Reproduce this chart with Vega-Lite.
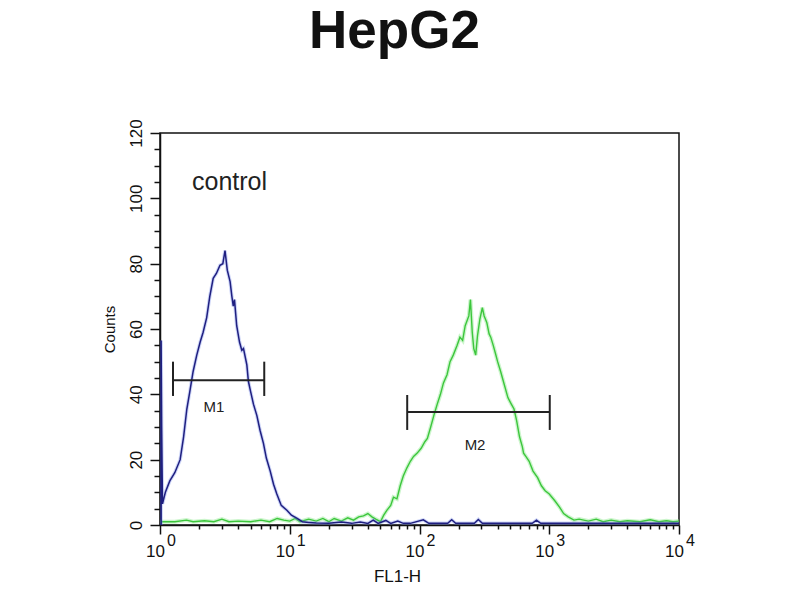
{
  "$schema": "https://vega.github.io/schema/vega-lite/v6.json",
  "description": "HepG2 flow cytometry histogram, control vs stained, FL1-H on a log axis",
  "width": 519,
  "height": 392,
  "autosize": {"type": "none"},
  "padding": {"left": 160, "top": 133, "right": 121, "bottom": 75},
  "background": "white",
  "title": {
    "text": "HepG2",
    "font": "Liberation Sans",
    "fontSize": 53,
    "fontWeight": "bold",
    "color": "#111111",
    "anchor": "middle",
    "frame": "group",
    "baseline": "alphabetic",
    "dx": -25,
    "offset": 18
  },
  "datasets": {
    "control": [
      {"i": 0, "x": 1.02, "y": 0},
      {"i": 1, "x": 1.02, "y": 56.5},
      {"i": 2, "x": 1.03, "y": 30},
      {"i": 3, "x": 1.045, "y": 6.5},
      {"i": 4, "x": 1.1, "y": 10},
      {"i": 5, "x": 1.19, "y": 13.5},
      {"i": 6, "x": 1.3, "y": 16},
      {"i": 7, "x": 1.43, "y": 20},
      {"i": 8, "x": 1.52, "y": 27},
      {"i": 9, "x": 1.61, "y": 35.5},
      {"i": 10, "x": 1.7, "y": 41},
      {"i": 11, "x": 1.8, "y": 47},
      {"i": 12, "x": 1.92, "y": 52},
      {"i": 13, "x": 2.04, "y": 56},
      {"i": 14, "x": 2.15, "y": 59},
      {"i": 15, "x": 2.29, "y": 63.5},
      {"i": 16, "x": 2.42, "y": 70},
      {"i": 17, "x": 2.57, "y": 75.5},
      {"i": 18, "x": 2.72, "y": 77},
      {"i": 19, "x": 2.9, "y": 79.5},
      {"i": 20, "x": 3.05, "y": 80},
      {"i": 21, "x": 3.17, "y": 84},
      {"i": 22, "x": 3.3, "y": 78},
      {"i": 23, "x": 3.47, "y": 74.5},
      {"i": 24, "x": 3.58, "y": 70},
      {"i": 25, "x": 3.67, "y": 67},
      {"i": 26, "x": 3.75, "y": 69},
      {"i": 27, "x": 3.9, "y": 61},
      {"i": 28, "x": 4.1, "y": 56},
      {"i": 29, "x": 4.27, "y": 53.5},
      {"i": 30, "x": 4.4, "y": 54},
      {"i": 31, "x": 4.67, "y": 49},
      {"i": 32, "x": 4.8, "y": 44},
      {"i": 33, "x": 4.95, "y": 41.5},
      {"i": 34, "x": 5.25, "y": 37},
      {"i": 35, "x": 5.58, "y": 33.5},
      {"i": 36, "x": 5.9, "y": 29},
      {"i": 37, "x": 6.27, "y": 25},
      {"i": 38, "x": 6.6, "y": 20.5},
      {"i": 39, "x": 7.07, "y": 16.5},
      {"i": 40, "x": 7.5, "y": 12.5},
      {"i": 41, "x": 7.95, "y": 9.5},
      {"i": 42, "x": 8.6, "y": 6},
      {"i": 43, "x": 9.5, "y": 4.5},
      {"i": 44, "x": 10.3, "y": 3},
      {"i": 45, "x": 11.4, "y": 2},
      {"i": 46, "x": 12.5, "y": 1},
      {"i": 47, "x": 14, "y": 0.8},
      {"i": 48, "x": 16, "y": 0.6},
      {"i": 49, "x": 20, "y": 0.5},
      {"i": 50, "x": 25, "y": 0.9},
      {"i": 51, "x": 30, "y": 0.5},
      {"i": 52, "x": 35, "y": 0.9},
      {"i": 53, "x": 40, "y": 0.5},
      {"i": 54, "x": 44, "y": 1.5},
      {"i": 55, "x": 48, "y": 0.5},
      {"i": 56, "x": 55, "y": 1.4},
      {"i": 57, "x": 60, "y": 0.5},
      {"i": 58, "x": 68, "y": 1.2},
      {"i": 59, "x": 75, "y": 0.5},
      {"i": 60, "x": 85, "y": 0.5},
      {"i": 61, "x": 107, "y": 1.6},
      {"i": 62, "x": 118, "y": 0.5},
      {"i": 63, "x": 165, "y": 0.5},
      {"i": 64, "x": 177, "y": 1.6},
      {"i": 65, "x": 190, "y": 0.5},
      {"i": 66, "x": 265, "y": 0.5},
      {"i": 67, "x": 284, "y": 1.7},
      {"i": 68, "x": 305, "y": 0.5},
      {"i": 69, "x": 740, "y": 0.5},
      {"i": 70, "x": 797, "y": 1.5},
      {"i": 71, "x": 860, "y": 0.5},
      {"i": 72, "x": 10000, "y": 0.5}
    ],
    "stained": [
      {"i": 0, "x": 1.0, "y": 1},
      {"i": 1, "x": 1.3, "y": 1},
      {"i": 2, "x": 1.6, "y": 1.5},
      {"i": 3, "x": 1.8, "y": 1},
      {"i": 4, "x": 2.2, "y": 1.3},
      {"i": 5, "x": 2.6, "y": 1},
      {"i": 6, "x": 3.0, "y": 1.8},
      {"i": 7, "x": 3.4, "y": 1},
      {"i": 8, "x": 4, "y": 1.2},
      {"i": 9, "x": 5, "y": 1},
      {"i": 10, "x": 6, "y": 1.5},
      {"i": 11, "x": 7, "y": 1},
      {"i": 12, "x": 8, "y": 2},
      {"i": 13, "x": 9, "y": 1.5},
      {"i": 14, "x": 10, "y": 1.2},
      {"i": 15, "x": 11, "y": 2},
      {"i": 16, "x": 12, "y": 1},
      {"i": 17, "x": 14, "y": 1.8},
      {"i": 18, "x": 16, "y": 1.2},
      {"i": 19, "x": 18, "y": 2},
      {"i": 20, "x": 20, "y": 1},
      {"i": 21, "x": 22, "y": 2},
      {"i": 22, "x": 25, "y": 1.2},
      {"i": 23, "x": 28, "y": 2.2},
      {"i": 24, "x": 31, "y": 1.5},
      {"i": 25, "x": 34, "y": 2.5},
      {"i": 26, "x": 37, "y": 2.8},
      {"i": 27, "x": 40, "y": 3.5},
      {"i": 28, "x": 43, "y": 2.5},
      {"i": 29, "x": 46, "y": 1.8},
      {"i": 30, "x": 50, "y": 1},
      {"i": 31, "x": 53, "y": 3},
      {"i": 32, "x": 56, "y": 4.5},
      {"i": 33, "x": 60, "y": 6},
      {"i": 34, "x": 63, "y": 8.5},
      {"i": 35, "x": 67, "y": 8},
      {"i": 36, "x": 71, "y": 12},
      {"i": 37, "x": 75, "y": 15},
      {"i": 38, "x": 80, "y": 17.5},
      {"i": 39, "x": 85, "y": 19.5},
      {"i": 40, "x": 90, "y": 21},
      {"i": 41, "x": 96, "y": 22},
      {"i": 42, "x": 103, "y": 23.5},
      {"i": 43, "x": 110, "y": 25.5},
      {"i": 44, "x": 115, "y": 26.5},
      {"i": 45, "x": 122, "y": 30},
      {"i": 46, "x": 130, "y": 34},
      {"i": 47, "x": 137, "y": 37},
      {"i": 48, "x": 145, "y": 40},
      {"i": 49, "x": 153, "y": 43.5},
      {"i": 50, "x": 163, "y": 46},
      {"i": 51, "x": 172, "y": 50},
      {"i": 52, "x": 182, "y": 52},
      {"i": 53, "x": 195, "y": 55},
      {"i": 54, "x": 205, "y": 57.5},
      {"i": 55, "x": 215, "y": 56.5},
      {"i": 56, "x": 225, "y": 61},
      {"i": 57, "x": 240, "y": 64},
      {"i": 58, "x": 247, "y": 69},
      {"i": 59, "x": 255, "y": 59},
      {"i": 60, "x": 262, "y": 54},
      {"i": 61, "x": 271, "y": 52},
      {"i": 62, "x": 280, "y": 58},
      {"i": 63, "x": 292, "y": 63},
      {"i": 64, "x": 305, "y": 66.5},
      {"i": 65, "x": 315, "y": 64},
      {"i": 66, "x": 330, "y": 62},
      {"i": 67, "x": 344, "y": 58.5},
      {"i": 68, "x": 354, "y": 57.5},
      {"i": 69, "x": 370, "y": 55},
      {"i": 70, "x": 385, "y": 52.5},
      {"i": 71, "x": 400, "y": 50},
      {"i": 72, "x": 422, "y": 47},
      {"i": 73, "x": 450, "y": 43},
      {"i": 74, "x": 480, "y": 39},
      {"i": 75, "x": 510, "y": 37},
      {"i": 76, "x": 535, "y": 35.5},
      {"i": 77, "x": 560, "y": 32},
      {"i": 78, "x": 590, "y": 27},
      {"i": 79, "x": 620, "y": 24},
      {"i": 80, "x": 634, "y": 22},
      {"i": 81, "x": 660, "y": 21},
      {"i": 82, "x": 700, "y": 19.5},
      {"i": 83, "x": 750, "y": 16.5},
      {"i": 84, "x": 813, "y": 14.5},
      {"i": 85, "x": 870, "y": 12},
      {"i": 86, "x": 930, "y": 10.5},
      {"i": 87, "x": 1000, "y": 9.5},
      {"i": 88, "x": 1100, "y": 7.5},
      {"i": 89, "x": 1200, "y": 5.5},
      {"i": 90, "x": 1290, "y": 3.5},
      {"i": 91, "x": 1400, "y": 2.5},
      {"i": 92, "x": 1550, "y": 1.5},
      {"i": 93, "x": 1700, "y": 1.8},
      {"i": 94, "x": 2000, "y": 1.2},
      {"i": 95, "x": 2300, "y": 1.8},
      {"i": 96, "x": 2600, "y": 1},
      {"i": 97, "x": 3000, "y": 1.5},
      {"i": 98, "x": 3500, "y": 1},
      {"i": 99, "x": 4000, "y": 1.3},
      {"i": 100, "x": 5000, "y": 1},
      {"i": 101, "x": 6000, "y": 1.6},
      {"i": 102, "x": 7000, "y": 1},
      {"i": 103, "x": 8000, "y": 1.3},
      {"i": 104, "x": 9000, "y": 1},
      {"i": 105, "x": 10000, "y": 1.2}
    ],
    "gates": [
      {"gate": "M1", "start": 1.26, "end": 6.36, "level": 44.3, "low": 39.5, "high": 50, "lx": 2.6, "ly": 36.2},
      {"gate": "M2", "start": 80.4, "end": 1009, "level": 34.6, "low": 29.1, "high": 39.8, "lx": 268, "ly": 24.6}
    ],
    "notes": [
      {"label": "control", "x": 1.765, "y": 102.5}
    ]
  },
  "layer": [
    {
      "encoding": {
        "x": {
          "field": "x",
          "type": "quantitative",
          "scale": {"type": "log", "domain": [1, 10000], "nice": false},
          "axis": {
            "orient": "bottom",
            "title": "FL1-H",
            "titleFont": "Liberation Sans",
            "titleFontSize": 17,
            "titleFontWeight": "normal",
            "titleColor": "#111111",
            "titleX": 237,
            "titleY": 56,
            "titleAlign": "center",
            "titleBaseline": "alphabetic",
            "values": [1, 2, 3, 4, 5, 6, 7, 8, 9, 10, 20, 30, 40, 50, 60, 70, 80, 90, 100, 200, 300, 400, 500, 600, 700, 800, 900, 1000, 2000, 3000, 4000, 5000, 6000, 7000, 8000, 9000, 10000],
            "labelExpr": "indexof([1, 10, 100, 1000, 10000], datum.value) >= 0 ? '10' : ''",
            "labelFont": "Liberation Sans",
            "labelFontSize": 17,
            "labelColor": "#111111",
            "labelOverlap": false,
            "labelFlush": false,
            "labelPadding": 9,
            "labelOffset": -5,
            "tickColor": "#111111",
            "tickWidth": 1.5,
            "tickSize": {"condition": {"test": "indexof([1, 10, 100, 1000, 10000], datum.value) >= 0", "value": 9}, "value": 4},
            "domainColor": "#111111",
            "domainWidth": 1.5,
            "grid": false
          }
        },
        "y": {
          "field": "y",
          "type": "quantitative",
          "scale": {"domain": [0, 120], "nice": false},
          "axis": {
            "title": "Counts",
            "titleFont": "Liberation Sans",
            "titleFontSize": 15,
            "titleFontWeight": "normal",
            "titleColor": "#111111",
            "titlePadding": 10,
            "values": [0, 5, 10, 15, 20, 25, 30, 35, 40, 45, 50, 55, 60, 65, 70, 75, 80, 85, 90, 95, 100, 105, 110, 115, 120],
            "labelExpr": "datum.value % 20 == 0 ? datum.label : ''",
            "labelAngle": -90,
            "labelFont": "Liberation Sans",
            "labelFontSize": 17,
            "labelColor": "#111111",
            "labelOverlap": false,
            "labelFlush": false,
            "labelPadding": 5,
            "tickColor": "#111111",
            "tickWidth": 1.5,
            "tickSize": {"condition": {"test": "datum.value % 20 == 0", "value": 10}, "value": 6},
            "domainColor": "#111111",
            "domainWidth": 1.5,
            "grid": false
          }
        }
      },
      "layer": [
        {
          "data": {"name": "stained"},
          "mark": {"type": "line", "color": "#8fe88f", "strokeWidth": 4, "opacity": 0.45, "clip": true},
          "encoding": {"order": {"field": "i", "type": "quantitative"}}
        },
        {
          "data": {"name": "stained"},
          "mark": {"type": "line", "color": "#3cc63c", "strokeWidth": 1.4, "clip": true},
          "encoding": {"order": {"field": "i", "type": "quantitative"}}
        },
        {
          "data": {"name": "control"},
          "mark": {"type": "line", "color": "#6f86e8", "strokeWidth": 3.5, "opacity": 0.35, "clip": true},
          "encoding": {"order": {"field": "i", "type": "quantitative"}}
        },
        {
          "data": {"name": "control"},
          "mark": {"type": "line", "color": "#1f1f80", "strokeWidth": 1.5, "clip": true},
          "encoding": {"order": {"field": "i", "type": "quantitative"}}
        },
        {
          "data": {"name": "gates"},
          "mark": {"type": "rule", "color": "#222222", "strokeWidth": 2},
          "encoding": {
            "x": {"field": "start", "type": "quantitative"},
            "x2": {"field": "end"},
            "y": {"field": "level", "type": "quantitative"}
          }
        },
        {
          "data": {"name": "gates"},
          "mark": {"type": "rule", "color": "#222222", "strokeWidth": 2},
          "encoding": {
            "x": {"field": "start", "type": "quantitative"},
            "y": {"field": "low", "type": "quantitative"},
            "y2": {"field": "high"}
          }
        },
        {
          "data": {"name": "gates"},
          "mark": {"type": "rule", "color": "#222222", "strokeWidth": 2},
          "encoding": {
            "x": {"field": "end", "type": "quantitative"},
            "y": {"field": "low", "type": "quantitative"},
            "y2": {"field": "high"}
          }
        },
        {
          "data": {"name": "gates"},
          "mark": {"type": "text", "font": "Liberation Sans", "fontSize": 15, "color": "#222222", "align": "center", "baseline": "middle"},
          "encoding": {
            "x": {"field": "lx", "type": "quantitative"},
            "y": {"field": "ly", "type": "quantitative"},
            "text": {"field": "gate"}
          }
        }
      ]
    },
    {
      "data": {"name": "notes"},
      "mark": {"type": "text", "font": "Liberation Sans", "fontSize": 25, "color": "#222222", "align": "left", "baseline": "alphabetic"},
      "encoding": {
        "x": {
          "field": "x",
          "type": "quantitative",
          "axis": {
            "orient": "bottom",
            "title": null,
            "values": [1, 10, 100, 1000, 10000],
            "labelExpr": "datum.value == 1 ? '0' : datum.value == 10 ? '1' : datum.value == 100 ? '2' : datum.value == 1000 ? '3' : '4'",
            "labelFont": "Liberation Sans",
            "labelFontSize": 16,
            "labelColor": "#111111",
            "labelOverlap": false,
            "labelFlush": false,
            "labelPadding": 7,
            "labelOffset": 11,
            "ticks": false,
            "domain": false,
            "grid": false
          }
        },
        "y": {"field": "y", "type": "quantitative", "axis": null},
        "text": {"field": "label"}
      }
    }
  ],
  "resolve": {"axis": {"x": "independent", "y": "independent"}},
  "config": {
    "view": {"stroke": "#111111", "strokeWidth": 1.5}
  }
}
